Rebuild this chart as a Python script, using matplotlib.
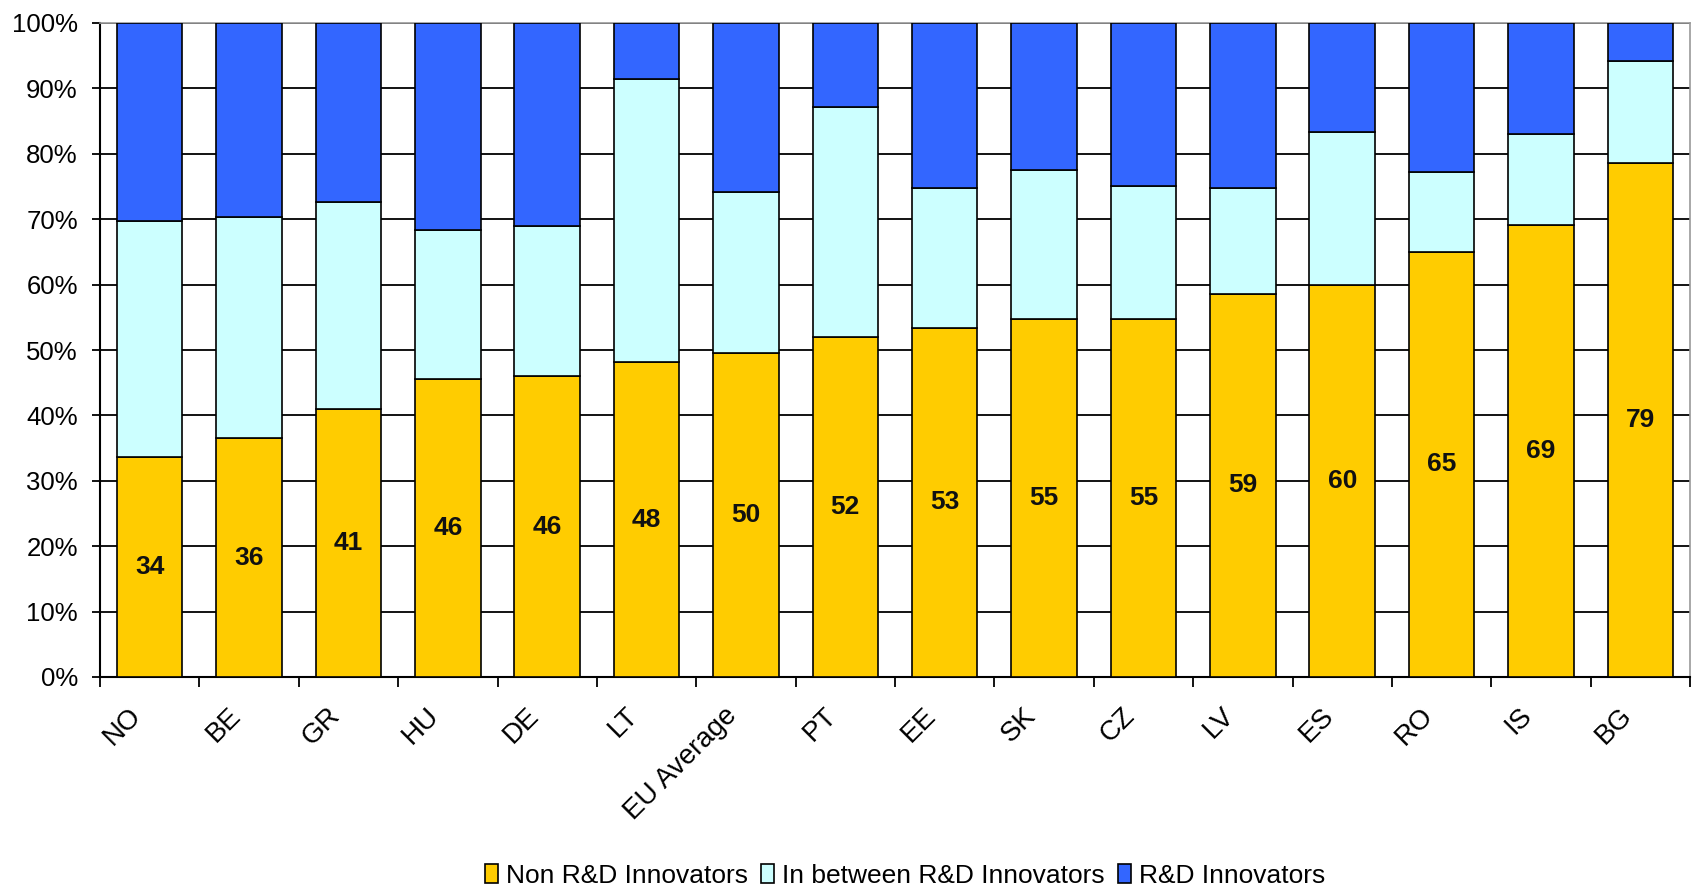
import numpy as np
import matplotlib
matplotlib.use("Agg")
from matplotlib import pyplot as plt
from matplotlib.ticker import FixedLocator, PercentFormatter
from matplotlib.transforms import ScaledTranslation

plt.rcParams["font.family"] = ["Liberation Sans", "DejaVu Sans"]

# ----------------------------
# Data (shares of firms, %)
# ----------------------------
countries = ["NO", "BE", "GR", "HU", "DE", "LT", "EU Average", "PT",
             "EE", "SK", "CZ", "LV", "ES", "RO", "IS", "BG"]
non_rd = [33.6, 36.5, 41.0, 45.6, 46.0, 48.1, 49.5, 52.0,
          53.4, 54.8, 54.8, 58.6, 59.9, 65.0, 69.1, 78.6]
in_between = [36.2, 33.9, 31.7, 22.7, 23.0, 43.3, 24.7, 35.1,
              21.4, 22.7, 20.3, 16.2, 23.4, 12.2, 13.9, 15.6]
rd = [100 - a - b for a, b in zip(non_rd, in_between)]

series_names = ["Non R&D Innovators", "In between R&D Innovators", "R&D Innovators"]
series_colors = ["#FFCC00", "#CCFFFF", "#3366FF"]

# ----------------------------
# Figure
# ----------------------------
fig = plt.figure(figsize=(16.94, 8.93), dpi=100)
ax = fig.add_axes([100 / 1694, 1 - 677 / 893, 1590 / 1694, 654 / 893])

x = np.arange(len(countries))
bottom = np.zeros(len(countries))
for vals, name, color in zip([non_rd, in_between, rd], series_names, series_colors):
    ax.bar(x, vals, width=0.66, bottom=bottom, color=color,
           edgecolor="black", linewidth=1.2, label=name, zorder=3)
    bottom += np.array(vals)

# value labels in the middle of the yellow segment
for xi, v in zip(x, non_rd):
    ax.text(xi, v / 2, f"{v:.0f}", ha="center", va="center",
            fontsize=19, fontweight="bold", color="#111111", zorder=4)

ax.set_xlim(-0.5, len(countries) - 0.5)
ax.set_ylim(0, 100)

# y axis: 0..100% with black gridlines
ax.yaxis.set_major_locator(FixedLocator(np.arange(0, 101, 10)))
ax.yaxis.set_major_formatter(PercentFormatter(decimals=0))
ax.yaxis.grid(True, color="black", linewidth=1.3, zorder=0)
ax.tick_params(axis="y", direction="out", length=6, width=1.3,
               labelsize=18.5, pad=10, colors="black")

# x axis: tick marks between categories, labels at the centers
ax.xaxis.set_major_locator(FixedLocator(np.arange(-0.5, len(countries), 1.0)))
ax.xaxis.set_major_formatter(plt.NullFormatter())
ax.xaxis.set_minor_locator(FixedLocator(x))
ax.set_xticklabels(countries, minor=True, rotation=45, ha="right",
                   va="center", rotation_mode="anchor")
ax.tick_params(axis="x", which="major", direction="out", length=7, width=1.3)
ax.tick_params(axis="x", which="minor", length=0, labelsize=20, pad=25)
shift = ScaledTranslation(-9 / 72, 0, fig.dpi_scale_trans)
for lab in ax.get_xticklabels(minor=True):
    lab.set_transform(lab.get_transform() + shift)

for side in ("left", "bottom"):
    ax.spines[side].set_color("black")
    ax.spines[side].set_linewidth(1.5)
for side in ("top", "right"):
    ax.spines[side].set_color("#999999")
    ax.spines[side].set_linewidth(1.2)
ax.set_axisbelow(True)

fig.legend(loc="center", bbox_to_anchor=(905 / 1694, 1 - 876 / 893), ncol=3,
           frameon=False, fontsize=19, handlelength=0.5, handleheight=0.75,
           handletextpad=0.3, columnspacing=0.5)

fig.savefig("out.png", dpi=100)
